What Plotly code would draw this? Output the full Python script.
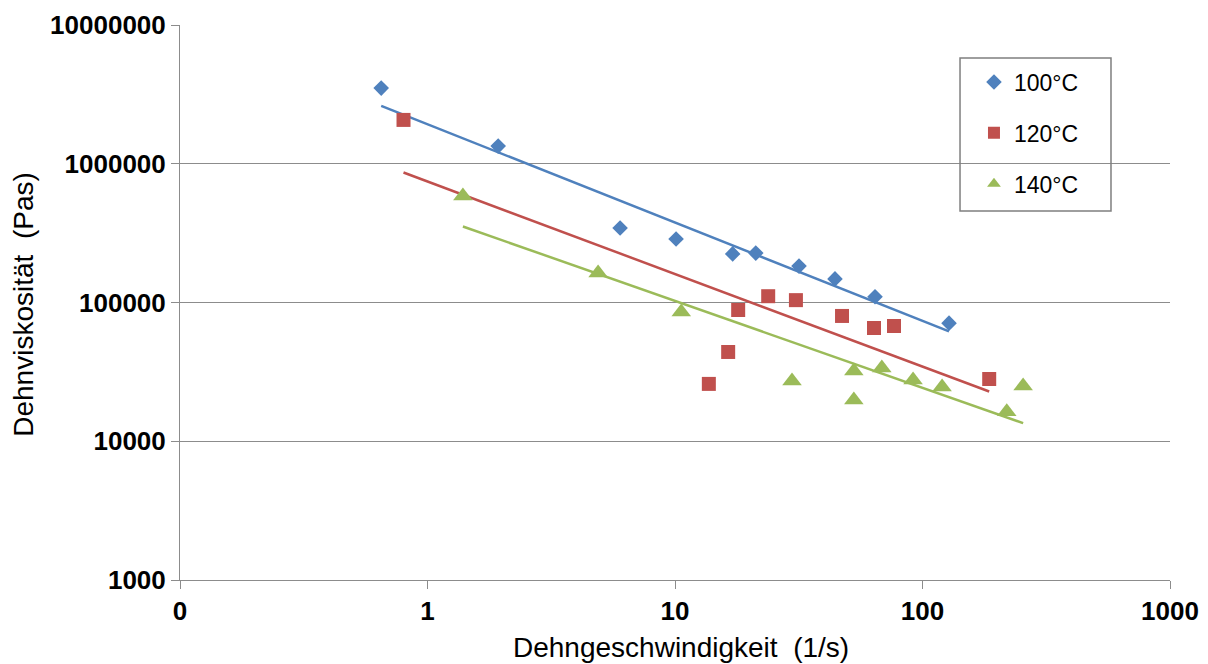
import numpy as np
import plotly.graph_objects as go

# Dehngeschwindigkeit (1/s) und Dehnviskosität (Pas) je Temperatur
rate_100 = [0.65, 1.93, 6.0, 10.1, 17.1, 21.2, 31.7, 44.3, 64.3, 128]
visc_100 = [3.51e6, 1.34e6, 3.44e5, 2.87e5, 2.24e5, 2.27e5, 1.83e5, 1.48e5, 1.10e5, 7.1e4]

rate_120 = [0.80, 13.7, 16.4, 18.0, 23.8, 30.8, 47.3, 63.7, 76.7, 186]
visc_120 = [2.07e6, 2.59e4, 4.40e4, 8.83e4, 1.11e5, 1.04e5, 8.0e4, 6.55e4, 6.77e4, 2.81e4]

rate_140 = [1.39, 4.89, 10.6, 29.7, 52.8, 52.8, 68.5, 91.6, 120, 219, 255]
visc_140 = [5.86e5, 1.63e5, 8.54e4, 2.72e4, 3.21e4, 1.98e4, 3.37e4, 2.76e4, 2.46e4, 1.63e4, 2.50e4]

series_names = ["100°C", "120°C", "140°C"]
x_tickvals = [0.1, 1, 10, 100, 1000]
x_ticktext = ["0", "1", "10", "100", "1000"]
y_tickvals = [1e3, 1e4, 1e5, 1e6, 1e7]
y_ticktext = ["1000", "10000", "100000", "1000000", "10000000"]

colors = ["#4F81BD", "#C0504D", "#9BBB59"]
symbols = ["diamond", "square", "triangle-up"]
sizes = [12, 14, 17]
FONT = "Liberation Sans, Arial, sans-serif"
GRID = "#8c8c8c"

fig = go.Figure()

datasets = [(rate_100, visc_100), (rate_120, visc_120), (rate_140, visc_140)]
for i, (xs, ys) in enumerate(datasets):
    xs = np.asarray(xs, dtype=float)
    ys = np.asarray(ys, dtype=float)
    # power-law trendline: least squares fit in log-log space
    k, d = np.polyfit(np.log10(xs), np.log10(ys), 1)
    xfit = np.array([xs.min(), xs.max()])
    yfit = 10 ** (k * np.log10(xfit) + d)
    fig.add_trace(go.Scatter(
        x=xfit, y=yfit, mode="lines",
        line=dict(color=colors[i], width=2.5),
        showlegend=False, hoverinfo="skip",
    ))

for i, (xs, ys) in enumerate(datasets):
    fig.add_trace(go.Scatter(
        x=xs, y=ys, mode="markers", name=series_names[i],
        legendgroup=series_names[i],
        marker=dict(symbol=symbols[i], size=sizes[i], color=colors[i],
                    line=dict(width=0)),
    ))

fig.update_xaxes(
    type="log", range=[-1, 3], automargin=False,
    tickvals=x_tickvals, ticktext=x_ticktext,
    showgrid=False, showline=True, linecolor=GRID, linewidth=1,
    ticks="outside", ticklen=8, tickcolor=GRID, tickwidth=1,
    tickfont=dict(family=FONT, size=26, color="black", weight="bold"),
    zeroline=False,
)
fig.update_yaxes(
    type="log", range=[3, 7], automargin=False,
    tickvals=y_tickvals, ticktext=y_ticktext,
    showgrid=True, gridcolor=GRID, gridwidth=1,
    showline=True, linecolor=GRID, linewidth=1,
    ticks="outside", ticklen=8, tickcolor=GRID, tickwidth=1,
    tickfont=dict(family=FONT, size=26, color="black", weight="bold"),
    zeroline=False,
)

fig.add_annotation(
    text="Dehngeschwindigkeit\u00a0 (1/s)", xref="paper", yref="paper",
    x=0.506, y=-0.121, xanchor="center", yanchor="middle", showarrow=False,
    font=dict(family=FONT, size=28, color="black"),
)
fig.add_annotation(
    text="Dehnviskosität\u00a0 (Pas)", xref="paper", yref="paper",
    x=-0.158, y=0.497, xanchor="center", yanchor="middle", showarrow=False,
    textangle=-90, font=dict(family=FONT, size=28, color="black"),
)

# legend frame
fig.add_shape(
    type="rect", xref="paper", yref="paper",
    x0=0.7879, x1=0.9404, y0=0.6649, y1=0.9405,
    line=dict(color="#7f7f7f", width=1.5), fillcolor="rgba(0,0,0,0)",
)

fig.update_layout(
    width=1208, height=664,
    margin=dict(l=180, r=38, t=25, b=84, autoexpand=False),
    paper_bgcolor="white", plot_bgcolor="white",
    font=dict(family=FONT, color="black"),
    legend=dict(
        x=0.802, y=0.936, xanchor="left", yanchor="top",
        bgcolor="rgba(0,0,0,0)", borderwidth=0,
        font=dict(family=FONT, size=23, color="black"),
        tracegroupgap=18, itemsizing="constant",
    ),
)

fig.write_html("out.html")
